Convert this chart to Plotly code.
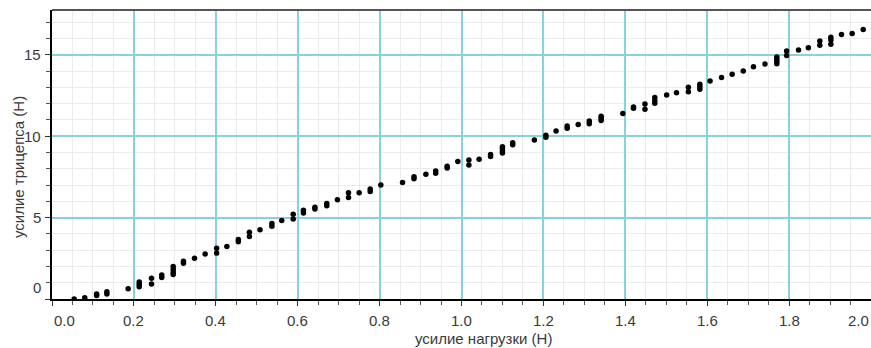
import plotly.graph_objects as go

# Load force (N) vs. triceps force (N) measurements
load_force = [
    0.054, 0.080, 0.109, 0.109, 0.134, 0.134, 0.186, 0.213, 0.213, 0.213,
    0.243, 0.243, 0.268, 0.268, 0.296, 0.296, 0.296, 0.296, 0.321, 0.321,
    0.348, 0.374, 0.402, 0.402, 0.427, 0.455, 0.455, 0.482, 0.482, 0.508,
    0.537, 0.537, 0.561, 0.589, 0.589, 0.614, 0.614, 0.642, 0.642, 0.671,
    0.671, 0.697, 0.724, 0.724, 0.750, 0.777, 0.777, 0.803, 0.856, 0.884,
    0.884, 0.913, 0.937, 0.937, 0.965, 0.965, 0.991, 1.018, 1.018, 1.043,
    1.071, 1.071, 1.100, 1.100, 1.100, 1.100, 1.125, 1.125, 1.178, 1.206,
    1.206, 1.231, 1.258, 1.258, 1.285, 1.312, 1.312, 1.341, 1.341, 1.341,
    1.394, 1.420, 1.420, 1.448, 1.448, 1.472, 1.472, 1.472, 1.501, 1.525,
    1.554, 1.554, 1.582, 1.582, 1.582, 1.607, 1.635, 1.661, 1.688, 1.713,
    1.741, 1.770, 1.770, 1.770, 1.770, 1.794, 1.794, 1.823, 1.847, 1.875,
    1.875, 1.902, 1.902, 1.902, 1.928, 1.954, 1.981,
]
triceps_force = [
    0.00, 0.08, 0.22, 0.30, 0.30, 0.45, 0.63, 0.75, 0.90, 1.05,
    0.92, 1.27, 1.32, 1.48, 1.50, 1.65, 1.82, 2.00, 2.20, 2.32,
    2.50, 2.76, 2.82, 3.12, 3.22, 3.52, 3.66, 3.84, 4.10, 4.25,
    4.47, 4.64, 4.82, 4.92, 5.20, 5.28, 5.45, 5.53, 5.63, 5.73,
    5.87, 6.09, 6.23, 6.53, 6.53, 6.61, 6.75, 7.00, 7.15, 7.38,
    7.51, 7.66, 7.73, 7.86, 8.04, 8.16, 8.44, 8.23, 8.54, 8.58,
    8.75, 8.88, 8.96, 9.10, 9.24, 9.35, 9.47, 9.59, 9.77, 9.94,
    10.06, 10.32, 10.49, 10.62, 10.71, 10.77, 10.93, 10.97, 11.10, 11.23,
    11.40, 11.72, 11.80, 11.65, 11.98, 12.03, 12.18, 12.38, 12.53, 12.67,
    12.73, 13.00, 12.89, 13.04, 13.19, 13.39, 13.61, 13.80, 14.00, 14.26,
    14.43, 14.45, 14.60, 14.74, 14.87, 14.95, 15.23, 15.29, 15.43, 15.58,
    15.85, 15.65, 15.90, 16.08, 16.25, 16.31, 16.56,
]

x_ticks = [0.0, 0.2, 0.4, 0.6, 0.8, 1.0, 1.2, 1.4, 1.6, 1.8, 2.0]
x_tick_labels = ["0.0", "0.2", "0.4", "0.6", "0.8", "1.0", "1.2", "1.4", "1.6", "1.8", "2.0"]
y_ticks = [0, 5, 10, 15]
y_tick_labels = ["0", "5", "10", "15"]

x_title = "усилие нагрузки (Н)"
y_title = "усилие трицепса (Н)"

FONT = "Liberation Sans, Arial, sans-serif"
MAJOR_GRID = "#86d3df"
MINOR_GRID = "#ebebeb"
TEXT = "#3a3a3a"

fig = go.Figure()
fig.add_trace(go.Scatter(
    x=load_force, y=triceps_force, mode="markers",
    marker=dict(color="black", size=5.5, line=dict(width=0)),
    hoverinfo="x+y", showlegend=False,
))

fig.update_xaxes(
    range=[0, 2.0], tickvals=x_ticks, showticklabels=False,
    showgrid=True, gridcolor=MAJOR_GRID, gridwidth=2,
    ticks="outside", ticklen=5, tickcolor="#333", tickwidth=1,
    showline=True, linecolor="black", linewidth=1.5,
    zeroline=False,
    minor=dict(dtick=0.05, showgrid=True, gridcolor=MINOR_GRID, gridwidth=1,
               ticks="outside", ticklen=4, tickcolor="#555"),
)
fig.update_yaxes(
    range=[0, 17.75], tickvals=y_ticks, showticklabels=False,
    showgrid=True, gridcolor=MAJOR_GRID, gridwidth=2,
    ticks="outside", ticklen=5, tickcolor="#333", tickwidth=1,
    showline=True, linecolor="black", linewidth=1.5,
    zeroline=False,
    minor=dict(dtick=1, showgrid=True, gridcolor=MINOR_GRID, gridwidth=1,
               ticks="outside", ticklen=4, tickcolor="#555"),
)

annotations = []
# x tick labels; the edge labels are kept inside the plot width
for i, (v, t) in enumerate(zip(x_ticks, x_tick_labels)):
    anchor = "left" if i == 0 else ("right" if i == len(x_ticks) - 1 else "center")
    annotations.append(dict(
        x=v, y=0, xref="x", yref="paper", text=t, showarrow=False,
        xanchor=anchor, yanchor="top", yshift=-11,
        font=dict(family=FONT, size=15, color=TEXT),
    ))
# y tick labels; the lowest one sits above the x axis line
for i, (v, t) in enumerate(zip(y_ticks, y_tick_labels)):
    annotations.append(dict(
        x=0, y=v, xref="paper", yref="y", text=t, showarrow=False,
        xanchor="right", yanchor="bottom" if i == 0 else "middle",
        xshift=-9, yshift=1 if i == 0 else 0,
        font=dict(family=FONT, size=15, color=TEXT),
    ))
# axis titles
annotations.append(dict(
    x=483, y=10, xref="x domain", yref="paper", text=x_title, showarrow=False,
    font=dict(family=FONT, size=15, color=TEXT),
))
annotations[-1].update(x=(483 - 52) / 819, y=-(338 - 299) / 289, xref="paper",
                       xanchor="center", yanchor="middle")
annotations.append(dict(
    x=-(52 - 18) / 819, y=(299 - 167) / 289, xref="paper", yref="paper",
    text=y_title, showarrow=False, textangle=-90,
    xanchor="center", yanchor="middle",
    font=dict(family=FONT, size=15, color=TEXT),
))

fig.update_layout(
    width=871, height=348,
    margin=dict(l=52, r=0, t=10, b=49),
    paper_bgcolor="white", plot_bgcolor="white",
    annotations=annotations,
    shapes=[dict(type="line", xref="paper", yref="paper", x0=0, x1=1, y0=1, y1=1,
                 line=dict(color="#555555", width=2))],
)

fig.write_html("out.html")
